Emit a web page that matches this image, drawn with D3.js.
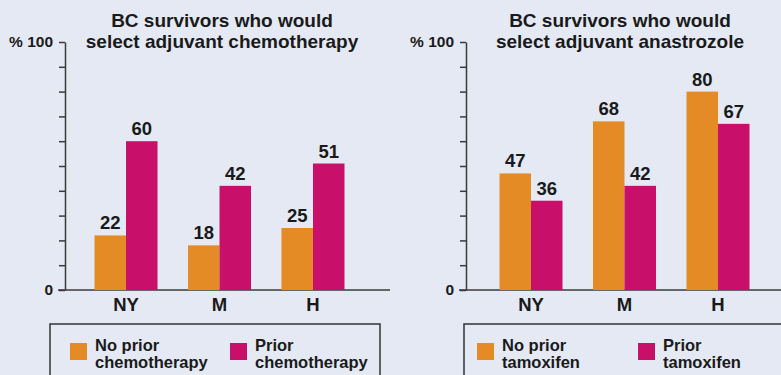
<!DOCTYPE html>
<html>
<head>
<meta charset="utf-8">
<script src="https://cdn.jsdelivr.net/npm/d3@7"></script>
<style>
  html, body { margin: 0; padding: 0; background: #e4e9f4; }
  svg { display: block; font-family: "Liberation Sans", Arial, sans-serif; font-weight: bold; }
</style>
</head>
<body>
<div id="chart"></div>
<script>
const categories = ['NY', 'M', 'H'];
const yTicks = [0, 10, 20, 30, 40, 50, 60, 70, 80, 90, 100];

const chemoNoPrior = [22, 18, 25];
const chemoPrior = [60, 42, 51];
const anastNoPrior = [47, 68, 80];
const anastPrior = [36, 42, 67];

const chemoTitle = ['BC survivors who would', 'select adjuvant chemotherapy'];
const anastTitle = ['BC survivors who would', 'select adjuvant anastrozole'];
const chemoLegend = [['No prior', 'chemotherapy'], ['Prior', 'chemotherapy']];
const anastLegend = [['No prior', 'tamoxifen'], ['Prior', 'tamoxifen']];

const colors = ['#e58b25', '#c8106a'];
const width = 781, height = 375;

const svg = d3.select('#chart').append('svg')
  .attr('width', width)
  .attr('height', height);

svg.append('rect')
  .attr('width', width)
  .attr('height', height)
  .attr('fill', '#e4e9f4');

const y = d3.scaleLinear().domain([0, 100]).range([290, 42]);

// one panel = title, axes, grouped bars, legend box
function drawPanel(opts) {
  const g = svg.append('g');
  const series = [opts.noPrior, opts.prior];

  const x = d3.scaleBand()
    .domain(categories)
    .range(opts.xRange)
    .paddingInner(0.326)
    .paddingOuter(0);

  const xSub = d3.scaleBand()
    .domain([0, 1])
    .range([0, x.bandwidth()]);

  // title
  g.append('text')
    .attr('x', opts.titleX)
    .attr('text-anchor', 'middle')
    .attr('font-size', 19)
    .attr('fill', '#1a1a1a')
    .selectAll('tspan')
    .data(opts.title)
    .enter().append('tspan')
    .attr('x', opts.titleX)
    .attr('y', (d, i) => 27 + i * 21)
    .text(d => d);

  // y axis
  const yAxis = g.append('g')
    .attr('transform', `translate(${opts.axisX},0)`)
    .call(d3.axisLeft(y)
      .tickValues(yTicks)
      .tickSize(6)
      .tickSizeOuter(0)
      .tickPadding(6)
      .tickFormat(d => d === 100 ? '% 100' : d === 0 ? '0' : ''));
  yAxis.selectAll('.domain, .tick line')
    .attr('stroke', '#3a3a3a')
    .attr('stroke-width', 1.5);
  yAxis.selectAll('.tick text')
    .attr('font-size', 15.5)
    .attr('font-family', '"Liberation Sans", Arial, sans-serif')
    .attr('font-weight', 'bold')
    .attr('fill', '#1a1a1a');

  // baseline
  g.append('line')
    .attr('x1', opts.axisX - 7)
    .attr('x2', opts.baseEnd)
    .attr('y1', y(0))
    .attr('y2', y(0))
    .attr('stroke', '#3a3a3a')
    .attr('stroke-width', 1.5);

  // category labels
  const xAxis = g.append('g')
    .attr('transform', `translate(0,${y(0)})`)
    .call(d3.axisBottom(x).tickSize(0).tickPadding(8));
  xAxis.select('.domain').remove();
  xAxis.selectAll('.tick text')
    .attr('font-size', 18.5)
    .attr('font-family', '"Liberation Sans", Arial, sans-serif')
    .attr('font-weight', 'bold')
    .attr('fill', '#1a1a1a');

  // bars
  const rows = [];
  categories.forEach((c, i) => {
    series.forEach((s, j) => rows.push({ cat: c, s: j, v: s[i] }));
  });

  g.selectAll('rect.bar')
    .data(rows)
    .enter().append('rect')
    .attr('class', 'bar')
    .attr('x', d => x(d.cat) + xSub(d.s))
    .attr('y', d => y(d.v))
    .attr('width', xSub.bandwidth())
    .attr('height', d => y(0) - y(d.v))
    .attr('fill', d => colors[d.s]);

  g.selectAll('text.val')
    .data(rows)
    .enter().append('text')
    .attr('class', 'val')
    .attr('x', d => x(d.cat) + xSub(d.s) + xSub.bandwidth() / 2)
    .attr('y', d => y(d.v) - 6)
    .attr('text-anchor', 'middle')
    .attr('font-size', 18.5)
    .attr('fill', '#1a1a1a')
    .text(d => d.v);

  // legend
  g.append('rect')
    .attr('x', opts.legendX)
    .attr('y', 324)
    .attr('width', 330)
    .attr('height', 70)
    .attr('fill', 'none')
    .attr('stroke', '#333')
    .attr('stroke-width', 1.5);

  const items = g.selectAll('g.legend')
    .data(opts.legend)
    .enter().append('g')
    .attr('class', 'legend')
    .attr('transform', (d, i) => `translate(${opts.legendItemX[i]},343)`);

  items.append('rect')
    .attr('width', 17)
    .attr('height', 17)
    .attr('fill', (d, i) => colors[i]);

  items.append('text')
    .attr('font-size', 16.5)
    .attr('fill', '#1a1a1a')
    .selectAll('tspan')
    .data(d => d)
    .enter().append('tspan')
    .attr('x', 25)
    .attr('y', (d, i) => 8 + i * 17)
    .text(d => d);
}

drawPanel({
  title: chemoTitle,
  titleX: 222,
  axisX: 65,
  baseEnd: 390,
  xRange: [94.5, 344.5],
  noPrior: chemoNoPrior,
  prior: chemoPrior,
  legend: chemoLegend,
  legendX: 50,
  legendItemX: [70, 230]
});

drawPanel({
  title: anastTitle,
  titleX: 620,
  axisX: 466,
  baseEnd: 781,
  xRange: [499.5, 749.5],
  noPrior: anastNoPrior,
  prior: anastPrior,
  legend: anastLegend,
  legendX: 464,
  legendItemX: [477, 638]
});
</script>
</body>
</html>
